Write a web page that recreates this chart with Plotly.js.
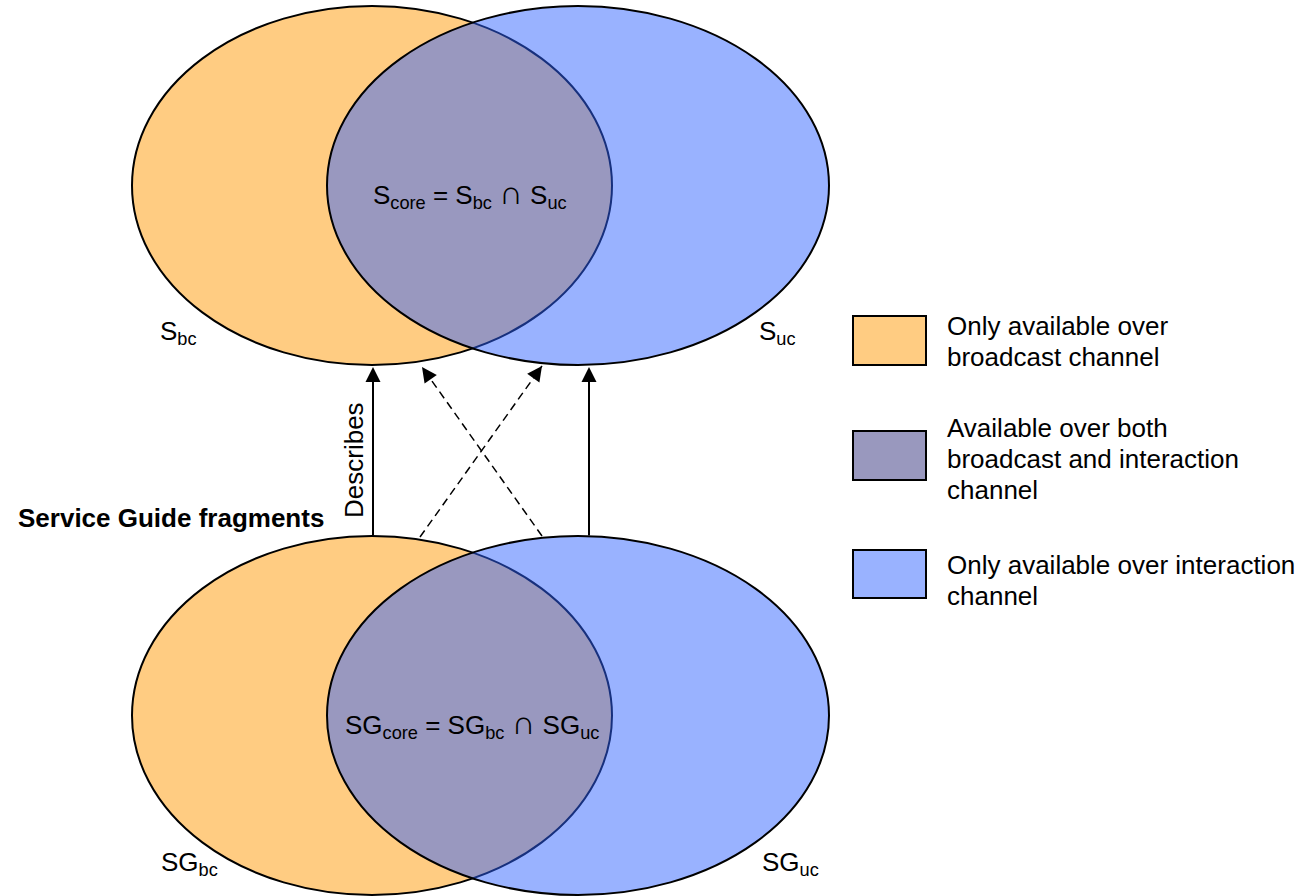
<!DOCTYPE html>
<html>
<head>
<meta charset="utf-8">
<script src="https://cdn.plot.ly/plotly-3.0.1.min.js"></script>
<style>
html,body{margin:0;padding:0;background:#fff;}
#chart{width:1315px;height:896px;}
</style>
</head>
<body>
<div id="chart"></div>
<script>
// ---- Diagram data (pixel-space coordinates on a 1315 x 896 canvas) ----
// Venn ellipses: index 0 = broadcast (orange), 1 = interaction (blue)
const setCx = [372, 578];
const setRx = [240, 251];
// two Venn diagrams: 0 = Services (top), 1 = Service Guide fragments (bottom)
const vennCy = [185.5, 715.5];
const vennRy = [179.5, 179.5];

const fillColors = ['rgb(255,204,130)', 'rgba(47,98,255,0.49)'];
const legendColors = ['rgb(255,204,130)', 'rgb(153,152,190)', 'rgb(153,178,255)'];

// Arrows (tail -> head)
const arrowTailX = [373, 589, 420, 542];
const arrowTailY = [537, 537, 537, 536];
const arrowHeadX = [373, 589, 542, 422];
const arrowHeadY = [367, 367, 366, 367];
const arrowDashed = [false, false, true, true];

// Text labels
const CAP = '<span style="font-size:33px">∩</span>';
const setLabels = ['S<sub>bc</sub>', 'S<sub>uc</sub>', 'SG<sub>bc</sub>', 'SG<sub>uc</sub>'];
const setLabelX = [158, 757, 159, 760];
const setLabelY = [332, 332, 863, 863];
const coreLabels = ['S<sub>core</sub> = S<sub>bc</sub> ' + CAP + ' S<sub>uc</sub>',
                    'SG<sub>core</sub> = SG<sub>bc</sub> ' + CAP + ' SG<sub>uc</sub>'];
const coreLabelX = [470, 472];
const coreLabelY = [193, 723];

const legendBoxX0 = 853, legendBoxX1 = 926;
const legendBoxY0 = [316, 431, 550];
const legendBoxY1 = [365, 480, 598];
const legendLines = [
  ['Only available over', 'broadcast channel'],
  ['Available over both', 'broadcast and interaction', 'channel'],
  ['Only available over interaction', 'channel']
];
const legendFirstLineY = [326, 428, 565];
const legendLineGap = 31;
const legendTextX = 945;

const FONT = {family: 'Arial, "Liberation Sans", sans-serif', size: 26, color: '#000'};

// ---- Build shapes ----
const shapes = [];
for (let v = 0; v < vennCy.length; v++) {
  for (let s = 0; s < setCx.length; s++) {
    shapes.push({
      type: 'circle', xref: 'x', yref: 'y', layer: 'below',
      x0: setCx[s] - setRx[s], x1: setCx[s] + setRx[s],
      y0: vennCy[v] - vennRy[v], y1: vennCy[v] + vennRy[v],
      fillcolor: fillColors[s],
      line: {color: '#000', width: 2}
    });
  }
}
for (let i = 0; i < legendColors.length; i++) {
  shapes.push({
    type: 'rect', xref: 'x', yref: 'y', layer: 'above',
    x0: legendBoxX0, x1: legendBoxX1, y0: legendBoxY0[i], y1: legendBoxY1[i],
    fillcolor: legendColors[i], line: {color: '#000', width: 2}
  });
}

// ---- Traces (dashed arrow shafts) ----
const traces = [];
for (let i = 0; i < arrowTailX.length; i++) {
  if (arrowDashed[i]) {
    traces.push({
      type: 'scatter', mode: 'lines', hoverinfo: 'skip', showlegend: false,
      x: [arrowTailX[i], arrowHeadX[i]], y: [arrowTailY[i], arrowHeadY[i]],
      line: {color: '#000', width: 1.5, dash: '8px,5px'}
    });
  }
}

// ---- Annotations ----
const annotations = [];
for (let i = 0; i < arrowTailX.length; i++) {
  let ax = arrowTailX[i], ay = arrowTailY[i];
  if (arrowDashed[i]) {
    const dx = arrowHeadX[i] - arrowTailX[i], dy = arrowHeadY[i] - arrowTailY[i];
    const len = Math.hypot(dx, dy);
    ax = arrowHeadX[i] - 12 * dx / len;
    ay = arrowHeadY[i] - 12 * dy / len;
  }
  annotations.push({
    x: arrowHeadX[i], y: arrowHeadY[i], xref: 'x', yref: 'y',
    ax: ax, ay: ay, axref: 'x', ayref: 'y',
    text: '', showarrow: true, arrowhead: 2, arrowsize: 1.5,
    arrowwidth: 2, arrowcolor: '#000', standoff: 0
  });
}
for (let i = 0; i < setLabels.length; i++) {
  annotations.push({x: setLabelX[i], y: setLabelY[i], xref: 'x', yref: 'y',
    text: setLabels[i], showarrow: false, xanchor: 'left', yanchor: 'middle', font: FONT});
}
for (let i = 0; i < coreLabels.length; i++) {
  annotations.push({x: coreLabelX[i], y: coreLabelY[i], xref: 'x', yref: 'y',
    text: coreLabels[i], showarrow: false, xanchor: 'center', yanchor: 'middle', font: FONT});
}
for (let i = 0; i < legendLines.length; i++) {
  legendLines[i].forEach((line, j) => {
    annotations.push({x: legendTextX, y: legendFirstLineY[i] + j * legendLineGap, xref: 'x', yref: 'y',
      text: line, showarrow: false, xanchor: 'left', yanchor: 'middle', align: 'left', font: FONT});
  });
}
annotations.push({x: 354, y: 460, xref: 'x', yref: 'y', text: 'Describes', textangle: -90,
  showarrow: false, xanchor: 'center', yanchor: 'middle', font: FONT});
annotations.push({x: 16, y: 518, xref: 'x', yref: 'y', text: '<b>Service Guide fragments</b>',
  showarrow: false, xanchor: 'left', yanchor: 'middle', font: FONT});
annotations.push({x: 14, y: 7, xref: 'x', yref: 'y', text: '<b>Services</b>',
  showarrow: false, xanchor: 'left', yanchor: 'bottom', font: FONT});

const layout = {
  width: 1315, height: 896,
  margin: {l: 0, r: 0, t: 0, b: 0, pad: 0},
  paper_bgcolor: '#fff', plot_bgcolor: '#fff',
  showlegend: false,
  xaxis: {range: [0, 1315], visible: false, fixedrange: true},
  yaxis: {range: [896, 0], visible: false, fixedrange: true},
  shapes: shapes,
  annotations: annotations
};

Plotly.newPlot('chart', traces, layout, {staticPlot: true, displayModeBar: false});
</script>
</body>
</html>
